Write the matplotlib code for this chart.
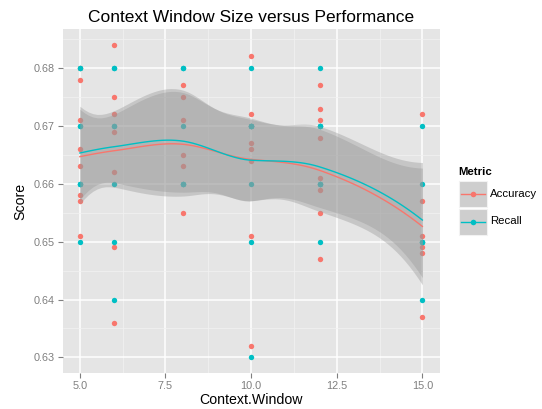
import numpy as np
import matplotlib
matplotlib.use("Agg")
import matplotlib.pyplot as plt
from matplotlib.lines import Line2D
from matplotlib.patches import Rectangle

# ---- data ----
acc_window = [5]*8 + [6]*7 + [8]*6 + [10]*8 + [12]*8 + [15]*6
acc_score = [0.680, 0.678, 0.671, 0.666, 0.663, 0.658, 0.657, 0.651,
             0.684, 0.675, 0.672, 0.669, 0.662, 0.649, 0.636,
             0.677, 0.675, 0.671, 0.665, 0.663, 0.655,
             0.682, 0.672, 0.670, 0.667, 0.666, 0.664, 0.651, 0.632,
             0.677, 0.673, 0.671, 0.668, 0.661, 0.659, 0.655, 0.647,
             0.672, 0.657, 0.651, 0.649, 0.648, 0.637]
rec_window = [5]*8 + [6]*7 + [8]*6 + [10]*8 + [12]*8 + [15]*6
rec_score = [0.68, 0.68, 0.67, 0.67, 0.66, 0.66, 0.66, 0.65,
             0.68, 0.68, 0.67, 0.67, 0.66, 0.65, 0.64,
             0.68, 0.68, 0.67, 0.66, 0.66, 0.66,
             0.68, 0.67, 0.67, 0.67, 0.67, 0.66, 0.65, 0.63,
             0.68, 0.67, 0.67, 0.67, 0.66, 0.66, 0.66, 0.65,
             0.67, 0.66, 0.65, 0.65, 0.65, 0.64]
metrics = ["Accuracy", "Recall"]
colors = ["#F8766D", "#00BFC4"]
x_ticks = [5.0, 7.5, 10.0, 12.5, 15.0]
y_ticks = [0.63, 0.64, 0.65, 0.66, 0.67, 0.68]


# ---- loess (span .75, degree 2, tricube, kd-tree + Hermite interpolation) ----
def tq(df):
    z = 1.959964
    g1 = (z**3 + z) / 4
    g2 = (5*z**5 + 16*z**3 + 3*z) / 96
    g3 = (3*z**7 + 19*z**5 + 17*z**3 - 15*z) / 384
    return z + g1/df + g2/df**2 + g3/df**3


def local_rows(x, x0, q):
    n = len(x)
    d = np.abs(x - x0)
    h = max(np.sort(d)[q-1], 1e-12)
    u = d / h
    w = np.where(u < 1, (1 - u**3)**3, 0.0)
    X = np.vstack([np.ones(n), x - x0, (x - x0)**2]).T
    XtW = X.T * w
    B = np.linalg.solve(XtW @ X, XtW)
    return B[0], B[1]


def kd_vertices(xs, fc):
    xs = np.sort(xs)
    n = len(xs)
    mu = 0.005 * (xs[-1] - xs[0])
    verts = {xs[0] - mu, xs[-1] + mu}
    X = lambda i: xs[i-1]

    def cell(l, u, vlo, vhi):
        if u - l + 1 <= fc:
            return
        m = (l + u) // 2
        off = 0
        while l <= m + off < u:
            if X(m + off) == X(m + off + 1):
                off = -off
                if off >= 0:
                    off += 1
            else:
                m = m + off
                break
        xi = X(m)
        if xi == vlo or xi == vhi:
            return
        verts.add(xi)
        cell(l, m, vlo, xi)
        cell(m + 1, u, xi, vhi)

    cell(1, n, xs[0] - mu, xs[-1] + mu)
    return np.array(sorted(verts))


def interp_rows(verts, Vv, Vs, xq):
    out = []
    for x0 in xq:
        j = np.searchsorted(verts, x0, side="right") - 1
        j = min(max(j, 0), len(verts) - 2)
        a, b = verts[j], verts[j+1]
        h = b - a
        t = (x0 - a) / h
        h00 = 2*t**3 - 3*t**2 + 1
        h10 = t**3 - 2*t**2 + t
        h01 = -2*t**3 + 3*t**2
        h11 = t**3 - t**2
        out.append(h00*Vv[j] + h10*h*Vs[j] + h01*Vv[j+1] + h11*h*Vs[j+1])
    return np.array(out)


def loess(x, y, span=0.75, n_eval=80):
    x = np.asarray(x, float); y = np.asarray(y, float)
    n = len(x)
    q = int(np.floor(n * span))
    fc = int(np.floor(n * span * 0.2))
    verts = kd_vertices(x, fc)
    Vv, Vs = zip(*[local_rows(x, v, q) for v in verts])
    Vv, Vs = np.array(Vv), np.array(Vs)
    xe = np.linspace(x.min(), x.max(), n_eval)
    Ld = interp_rows(verts, Vv, Vs, x)
    Le = interp_rows(verts, Vv, Vs, xe)
    IL = np.eye(n) - Ld
    M = IL.T @ IL
    d1 = np.trace(M); d2 = np.trace(M @ M)
    rss = np.sum((IL @ y)**2)
    s = np.sqrt(rss / d1)
    df = d1**2 / d2
    fit = Le @ y
    se = s * np.sqrt(np.sum(Le**2, axis=1))
    t = tq(df)
    return xe, fit, fit - t*se, fit + t*se


# ---- figure ----
W, H = 542, 409
plt.rcParams['font.family'] = ['Liberation Sans', 'DejaVu Sans']
fig = plt.figure(figsize=(W/100, H/100), dpi=100)
fig.patch.set_facecolor("white")

L, R, B, T = 62.7, 439.5, 373, 29.3
ax = fig.add_axes([L/W, 1 - B/H, (R-L)/W, (B-T)/H])
ax.set_facecolor("#E5E5E5")
for sp in ax.spines.values():
    sp.set_visible(False)

ax.set_xlim(4.5, 15.5)
ax.set_ylim(0.6273, 0.6867)
ax.set_xticks(x_ticks)
ax.set_xticklabels([f"{v:.1f}" for v in x_ticks])
ax.set_yticks(y_ticks)
ax.set_yticklabels([f"{v:.2f}" for v in y_ticks])
ax.set_xticks([6.25, 8.75, 11.25, 13.75], minor=True)
ax.set_yticks([0.635, 0.645, 0.655, 0.665, 0.675, 0.685], minor=True)
ax.grid(which="major", color="white", linewidth=1.1)
ax.grid(which="minor", color="#F2F2F2", linewidth=0.5)
ax.set_axisbelow(True)
ax.tick_params(which="major", length=3.5, width=0.8, color="#7F7F7F",
               labelcolor="#7F7F7F", labelsize=7.8, pad=2)
ax.tick_params(which="minor", length=0)

data = [(acc_window, acc_score), (rec_window, rec_score)]
for (xw, ys), c in zip(data, colors):
    ax.scatter(xw, ys, s=15, color=c, linewidths=0, zorder=3)

for (xw, ys), c in zip(data, colors):
    xe, fit, lo, hi = loess(xw, ys)
    ax.fill_between(xe, lo, hi, color="#999999", alpha=0.4, linewidth=0, zorder=4)
    ax.plot(xe, fit, color=c, lw=1.0, zorder=5)

ax.set_xlabel("Context.Window", fontsize=10.2, labelpad=2)
ax.set_ylabel("Score", fontsize=10.2, labelpad=5)
ax.set_title("Context Window Size versus Performance", fontsize=12.5, pad=5)

# ---- legend ----
fig.text(458/W, 1 - 172/H, "Metric", fontsize=8.2, fontweight="bold",
         ha="left", va="center")
for i, (m, c) in enumerate(zip(metrics, colors)):
    y0 = 181 + i*27.5
    fig.add_artist(Rectangle((459/W, 1 - (y0 + 26)/H), 28/W, 26/H,
                             transform=fig.transFigure, facecolor="#CECECE",
                             edgecolor="#F2F2F2", lw=0.8))
    yc = 1 - (y0 + 13)/H
    fig.add_artist(Line2D([461/W, 485/W], [yc, yc], transform=fig.transFigure,
                          color=c, lw=1.0))
    fig.add_artist(Line2D([473/W], [yc], transform=fig.transFigure, marker="o",
                          markersize=4, color=c, markeredgewidth=0))
    fig.text(490/W, yc, m, fontsize=8.2, ha="left", va="center")

fig.savefig("out.png", dpi=100)
